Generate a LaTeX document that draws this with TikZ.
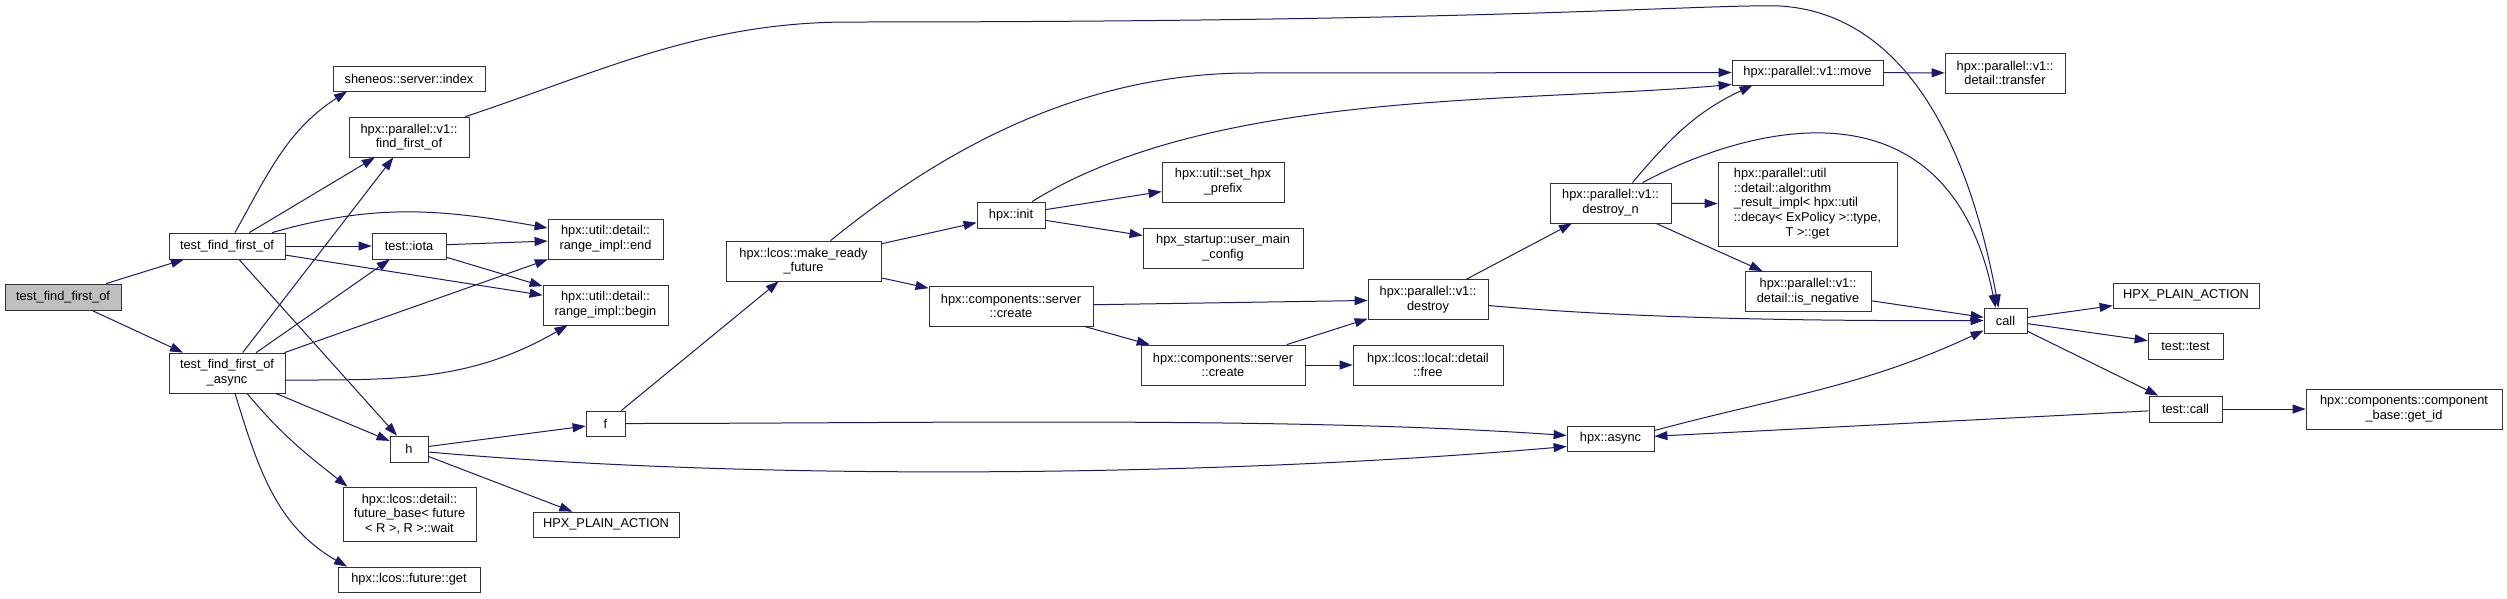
\documentclass[tikz,border=0pt]{standalone}
\usepackage{fontspec}
\setmainfont{Liberation Sans}
\usetikzlibrary{arrows.meta}
\definecolor{midnight}{HTML}{191970}
\definecolor{rootgray}{HTML}{BFBFBF}

\begin{document}
\begin{tikzpicture}[
  x=1pt, y=1pt,
  fn/.style={rectangle, draw=black!80, fill=white, line width=0.8pt, inner sep=1pt,
             align=center, font=\fontsize{12.8}{14.7}\selectfont},
  sz/.style 2 args={minimum width=#1, minimum height=#2},
  rootfn/.style={fn, fill=rootgray},
  arrow/.style={draw=midnight, line width=1pt, -{Triangle[length=13pt, width=9pt]}},
]
\useasboundingbox (0,0) rectangle (2507,-598);

\node[rootfn, sz={116}{26}] (root) at (63,-297) {test\_find\_first\_of};
\node[fn, sz={116}{26}] (tffo) at (227,-246) {test\_find\_first\_of};
\node[fn, sz={116}{40}] (tffoa) at (227,-373) {test\_find\_first\_of\\\_async};

\node[fn, sz={152}{25}] (index) at (409,-78.5) {sheneos::server::index};
\node[fn, sz={120}{40}] (fffo) at (409,-137) {hpx::parallel::v1::\\find\_first\_of};
\node[fn, sz={74}{26}] (iota) at (409,-246) {test::iota};
\node[fn, sz={38}{26}] (h) at (409,-449) {h};
\node[fn, sz={133}{54}] (wait) at (409.5,-514) {hpx::lcos::detail::\\future\_base< future\\< R >, R >::wait};
\node[fn, sz={142}{25}] (get) at (409,-579.5) {hpx::lcos::future::get};

\node[fn, sz={115}{40}] (rend) at (605.5,-239) {hpx::util::detail::\\range\_impl::end};
\node[fn, sz={125}{40}] (rbegin) at (605.5,-305) {hpx::util::detail::\\range\_impl::begin};
\node[fn, sz={39}{25}] (f) at (605.5,-423.5) {f};
\node[fn, sz={146}{25}] (plain1) at (606,-524.5) {HPX\_PLAIN\_ACTION};

\node[fn, sz={155}{40}] (mrf) at (803.5,-261) {hpx::lcos::make\_ready\\\_future};

\node[fn, sz={68}{26}] (init) at (1011,-215) {hpx::init};
\node[fn, sz={164}{40}] (create1) at (1011,-306) {hpx::components::server\\::create};

\node[fn, sz={122}{40}] (prefix) at (1223,-182) {hpx::util::set\_hpx\\\_prefix};
\node[fn, sz={160}{40}] (umc) at (1223,-248) {hpx\_startup::user\_main\\\_config};
\node[fn, sz={164}{40}] (create2) at (1223,-365) {hpx::components::server\\::create};

\node[fn, sz={120}{40}] (destroy) at (1428,-299.5) {hpx::parallel::v1::\\destroy};
\node[fn, sz={150}{40}] (free) at (1428,-365) {hpx::lcos::local::detail\\::free};

\node[fn, sz={121}{40}] (dn) at (1610.5,-203) {hpx::parallel::v1::\\destroy\_n};
\node[fn, sz={87}{25}] (async) at (1610.5,-438.5) {hpx::async};

\node[fn, sz={151}{25}] (move) at (1807.5,-72.5) {hpx::parallel::v1::move};
\node[fn, sz={179}{84}] (alg) at (1807.5,-204) {\begin{tabular}{@{}l@{}}hpx::parallel::util\\::detail::algorithm\\\_result\_impl< hpx::util\\::decay< ExPolicy >::type,\\\multicolumn{1}{@{}c@{}}{T >::get}\end{tabular}};
\node[fn, sz={126}{40}] (isneg) at (1808,-291.5) {hpx::parallel::v1::\\detail::is\_negative};

\node[fn, sz={120}{40}] (transfer) at (2005,-73) {hpx::parallel::v1::\\detail::transfer};
\node[fn, sz={43}{25}] (call) at (2005.5,-320.5) {call};

\node[fn, sz={146}{25}] (plain2) at (2186,-295.5) {HPX\_PLAIN\_ACTION};
\node[fn, sz={75}{26}] (ttest) at (2185.5,-346) {test::test};
\node[fn, sz={73}{26}] (tcall) at (2185.5,-409) {test::call};

\node[fn, sz={196}{40}] (getid) at (2404,-409) {hpx::components::component\\\_base::get\_id};

\draw[arrow] (root) -- (tffo);
\draw[arrow] (root) -- (tffoa);

\draw[arrow] ([xshift=8]tffo.north) to[out=61, in=213] ([xshift=-62]index.south);
\draw[arrow] (tffo) -- (fffo);
\draw[arrow] ([xshift=45]tffo.north) to[out=16, in=170] ([yshift=11]rend.west);
\draw[arrow] (tffo) -- (iota);
\draw[arrow] (tffo) -- (rbegin);
\draw[arrow] (tffo) -- (h);

\draw[arrow] (tffoa) -- (fffo);
\draw[arrow] (tffoa) -- (iota);
\draw[arrow] (tffoa) -- (rend);
\draw[arrow] ([yshift=-7]tffoa.east) to[out=0, in=210] ([xshift=-38]rbegin.south);
\draw[arrow] (tffoa) -- (h);
\draw[arrow] ([xshift=20]tffoa.south) to[out=-50, in=142] ([xshift=5]wait.north west);
\draw[arrow] ([xshift=8]tffoa.south) to[out=-73, in=150] ([xshift=-62]get.north);

\draw[arrow] (iota) -- (rend);
\draw[arrow] (iota) -- (rbegin);

\draw[arrow] ([xshift=-4]fffo.north east) .. controls (600,-72) and (700,-22) .. (850,-22)
  .. controls (1500,-22) and (1700,-4) .. (1780,-6)
  .. controls (1880,-12) and (1960,-100) .. ([xshift=-7]call.north);

\draw[arrow] (h) -- (f);
\draw[arrow] ([yshift=-3]h.east) .. controls (767,-482) and (1228,-476) .. ([yshift=-8]async.west);
\draw[arrow] (h) -- (plain1);

\draw[arrow] (f) -- (mrf);
\draw[arrow] (f.east) .. controls (908,-423.5) and (1285,-416) .. ([yshift=3]async.west);

\draw[arrow] (mrf) -- (init);
\draw[arrow] (mrf) -- (create1);
\draw[arrow] ([xshift=27]mrf.north) .. controls (930,-160) and (1070,-73) .. (1250,-73) -- (move.west);

\draw[arrow] (init) -- (prefix);
\draw[arrow] (init) -- (umc);
\draw[arrow] ([xshift=21]init.north) .. controls (1213,-89) and (1520,-103) .. ([yshift=-12]move.west);

\draw[arrow] (create1) -- (destroy);
\draw[arrow] (create1) -- (create2);
\draw[arrow] (create2) -- (destroy);
\draw[arrow] (create2) -- (free);

\draw[arrow] (destroy) -- (dn);
\draw[arrow] ([yshift=-6]destroy.east) .. controls (1650,-320) and (1850,-321) .. (call.west);

\draw[arrow] ([xshift=22]dn.north) to[out=50, in=205] ([xshift=-55]move.south);
\draw[arrow] ([xshift=32]dn.north) .. controls (1760,-120) and (1950,-80) .. ([xshift=-10]call.north);
\draw[arrow] (dn) -- (alg);
\draw[arrow] (dn) -- (isneg);

\draw[arrow] (isneg) -- (call);
\draw[arrow] (move) -- (transfer);

\draw[arrow] (call) -- (plain2);
\draw[arrow] (call) -- (ttest);
\draw[arrow] (call) -- (tcall);

\draw[arrow] (tcall) -- (getid);
\draw[arrow] (tcall) -- (async);
\draw[arrow] ([yshift=8]async.east) to[out=15, in=205] ([yshift=-10]call.west);

\end{tikzpicture}
\end{document}
